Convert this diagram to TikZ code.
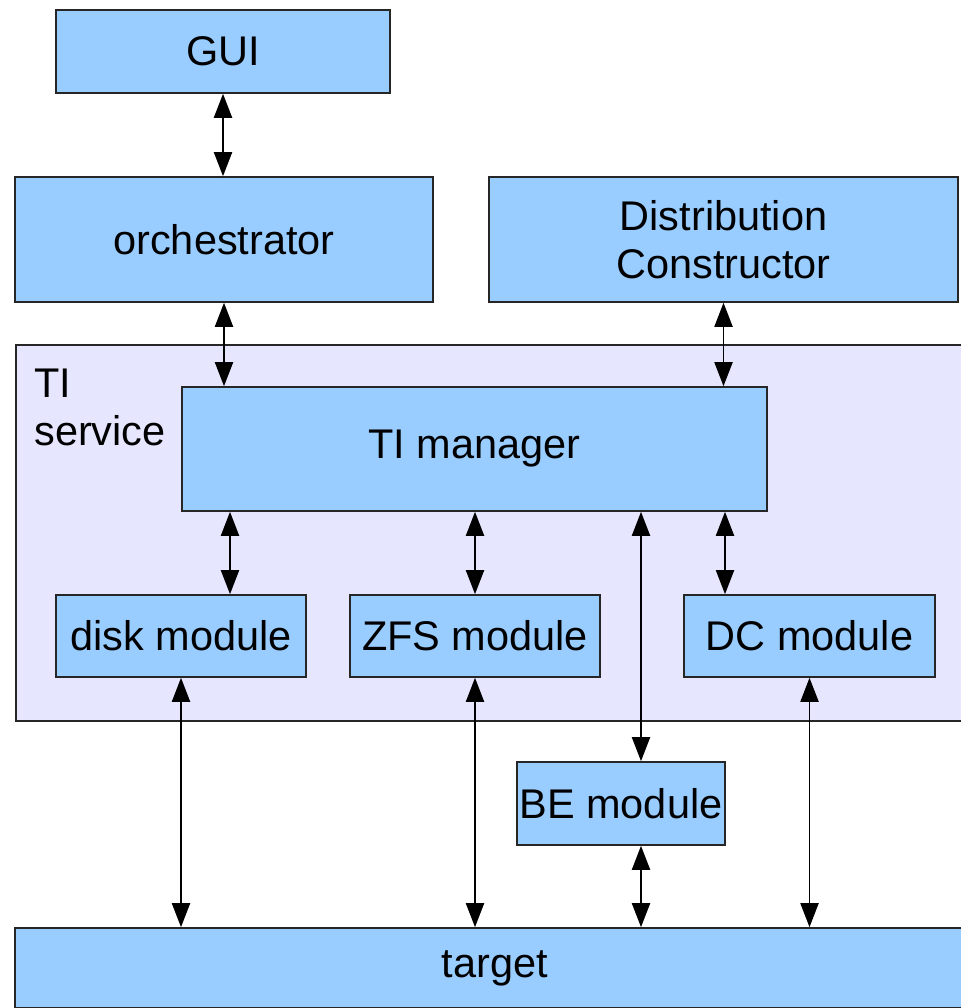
\documentclass[tikz,border=0pt]{standalone}
\usepackage{fontspec}
\setmainfont{Liberation Sans}
\usepackage{xcolor}
\usetikzlibrary{arrows.meta, positioning, calc}

\definecolor{boxblue}{HTML}{99CCFF}
\definecolor{svclilac}{HTML}{E6E6FF}

\begin{document}
\begin{tikzpicture}[
    every node/.style={font=\fontsize{23.6}{27.3}\selectfont},
    block/.style={draw=black!85, line width=0.9pt, fill=boxblue, inner sep=0pt, align=center},
    link/.style={{Triangle[length=0.48cm, width=0.36cm]}-{Triangle[length=0.48cm, width=0.36cm]}, line width=1.1pt}]
    \useasboundingbox (0,0) rectangle (19.2,20.16);

    % service frame
    \node (tisvc) [draw=black!85, line width=0.9pt, fill=svclilac, anchor=north west,
        minimum width=19.6cm, minimum height=7.52cm] at (0.3,13.28) {};
    \node (tilabel) [anchor=north west, align=left, inner sep=0pt] at (0.68,12.78) {TI\\service};

    % top row
    \node (gui) [block, minimum width=6.68cm, minimum height=1.66cm] at (4.46,19.13) {GUI};
    \node (orch) [block, minimum width=8.36cm, minimum height=2.5cm] at (4.48,15.37) {orchestrator};
    \node (dc) [block, minimum width=9.38cm, minimum height=2.5cm] at (14.47,15.37) {Distribution\\Constructor};

    % inside the service
    \node (tim) [block, minimum width=11.7cm, minimum height=2.48cm] at (9.49,11.18) {TI manager};
    \node (disk) [block, minimum width=5cm, minimum height=1.64cm] at (3.62,7.44) {disk module};
    \node (zfs) [block, minimum width=5cm, minimum height=1.64cm] at (9.5,7.44) {ZFS module};
    \node (dcmod) [block, minimum width=5.02cm, minimum height=1.64cm] at (16.19,7.44) {DC module};

    \node (be) [block, minimum width=4.16cm, minimum height=1.66cm] at (12.42,4.09) {BE module};
    \node (target) [block, minimum width=19.2cm, minimum height=1.6cm] at (9.9,0.8) {target};

    % connections
    \draw[link] (gui.south) -- (gui.south |- orch.north);
    \draw[link] (orch.south) -- (orch.south |- tim.north);
    \draw[link] (dc.south) -- (dc.south |- tim.north);
    \draw[link] ([xshift=0.98cm]disk.north |- tim.south) -- ([xshift=0.98cm]disk.north);
    \draw[link] (zfs.north |- tim.south) -- (zfs.north);
    \draw[link] ([xshift=0.4cm]be.north |- tim.south) -- ([xshift=0.4cm]be.north);
    \draw[link] ([xshift=-1.69cm]dcmod.north |- tim.south) -- ([xshift=-1.69cm]dcmod.north);
    \draw[link] (disk.south) -- (disk.south |- target.north);
    \draw[link] (zfs.south) -- (zfs.south |- target.north);
    \draw[link] ([xshift=0.4cm]be.south) -- ([xshift=0.4cm]be.south |- target.north);
    \draw[link] (dcmod.south) -- (dcmod.south |- target.north);
\end{tikzpicture}
\end{document}
